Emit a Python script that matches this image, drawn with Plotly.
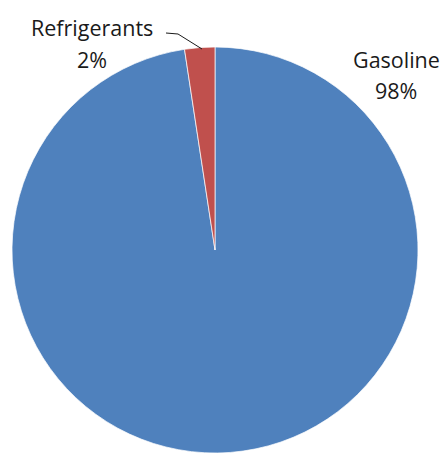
import plotly.graph_objects as go

labels = ["Gasoline", "Refrigerants"]
values = [97.6, 2.4]
pct_text = ["98%", "2%"]
colors = ["#4F81BD", "#C0504D"]

W, H = 445, 457
cx, cy, r = 215, 250, 203

fig = go.Figure(go.Pie(
    labels=labels, values=values, sort=False, direction="clockwise",
    rotation=0, textinfo="none", hoverinfo="label+percent",
    marker=dict(colors=colors, line=dict(color="white", width=0.7)),
    domain=dict(x=[(cx - r) / W, (cx + r) / W], y=[1 - (cy + r) / H, 1 - (cy - r) / H]),
    showlegend=False,
))

font = dict(family="Open Sans, sans-serif", size=21.5, color="#1a1a1a")
label_pos = {"Refrigerants": (92, 27, 59), "Gasoline": (396, 59, 90)}
ann = []
for lab, pt in zip(labels, pct_text):
    x, y1, y2 = label_pos[lab]
    ann.append(dict(x=x / W, y=1 - y1 / H, xref="paper", yref="paper", text=lab,
                    showarrow=False, font=font, xanchor="center", yanchor="middle"))
    ann.append(dict(x=x / W, y=1 - y2 / H, xref="paper", yref="paper", text=pt,
                    showarrow=False, font=font, xanchor="center", yanchor="middle"))

fig.add_shape(type="path", xref="paper", yref="paper",
              path=f"M {166/W} {1-33/H} L {178/W} {1-34/H} L {202/W} {1-49/H}",
              line=dict(color="#1a1a1a", width=1))

fig.update_layout(width=W, height=H, margin=dict(l=0, r=0, t=0, b=0),
                  paper_bgcolor="white", plot_bgcolor="white", annotations=ann)
fig.write_html("out.html")
